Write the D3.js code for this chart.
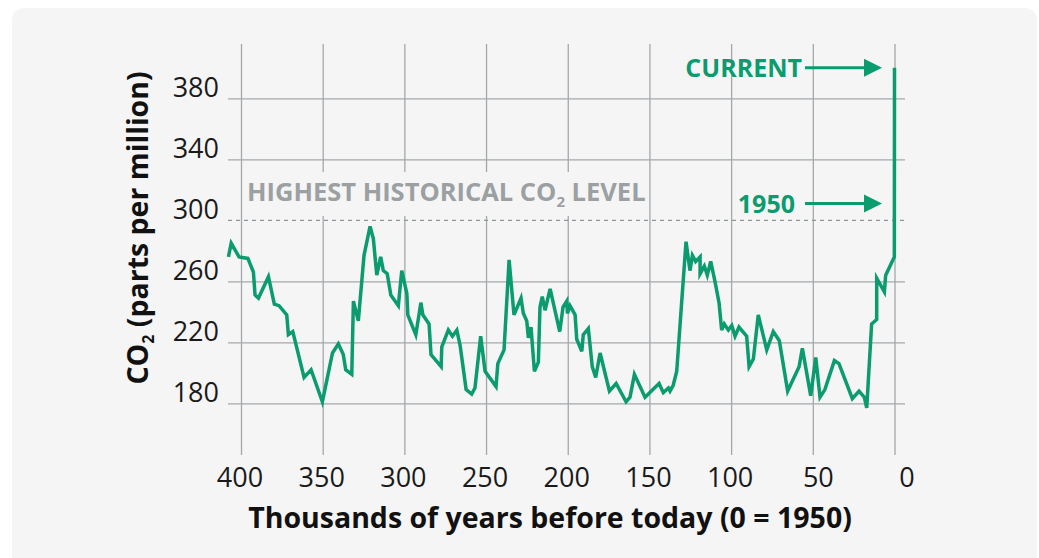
<!DOCTYPE html>
<html>
<head>
<meta charset="utf-8">
<script src="https://cdn.jsdelivr.net/npm/d3@7"></script>
<style>
  body { margin: 0; background: #ffffff; }
  svg { display: block; font-family: "Open Sans", "Noto Sans", sans-serif; }
  .grid line { stroke: #a3a8ab; stroke-width: 1.3; }
  .grid path { display: none; }
  .ticklab text { fill: #1a1a1a; font-size: 27px; font-family: "Open Sans", "Noto Sans", sans-serif; }
  .ticklab path, .ticklab line { display: none; }
</style>
</head>
<body>
<svg id="chart" width="1039" height="558"></svg>
<script>
// thousands of years before 1950
var kyr = [407.7, 406, 401.2, 395.8, 392.4, 391.4, 389.3, 383.2, 379.6, 376.7, 372, 371, 368.3,
  361.4, 357.1, 350.2, 344, 340.4, 337.4, 335.9, 332.2, 331.2, 328.2, 324.7, 321, 319, 316.9,
  314.5, 312.9, 310.5, 308.3, 303.7, 301.6, 298.5, 297.9, 293, 289.9, 288.7, 284.9, 283.7,
  277.5, 277.1, 273.1, 270.6, 267.9, 265.9, 262.2, 258.8, 256.8, 253.3, 250.6, 243.9, 242.8,
  239, 235.9, 232.9, 228.6, 227.2, 225.1, 224.1, 222.5, 220.4, 218, 217, 215.6, 213.9, 210.8,
  204.9, 202.9, 200.6, 200.2, 198.6, 195.5, 194.5, 191.4, 190.5, 187.4, 185, 182.9, 180.2,
  174.5, 170.4, 164.3, 161.9, 159.2, 152.7, 144.1, 141.5, 138.4, 137.4, 135.4, 133.3, 130.7,
  127.6, 125.2, 123.7, 121.7, 119, 119, 116.4, 114.6, 112.5, 109.9, 107.4, 105.8, 104.2,
  101.7, 99.6, 97.6, 95.2, 90.5, 89, 86.4, 83.4, 78.2, 74.2, 70.5, 65.4, 58.4, 56.4, 51.3,
  48.2, 45.6, 42.6, 36.8, 34, 25.8, 21.7, 18.5, 17, 14, 10.9, 10.9, 6.2, 5.4, 0.1, 0];
var ppm = [276, 285, 276, 275, 266, 251, 249, 263, 245, 244, 238, 225, 227,
  197, 202, 181, 213, 219, 212, 202, 199, 247, 234, 277, 296, 288, 264,
  276, 267, 265, 251, 244, 267, 252, 238, 225, 246, 238, 232, 212,
  204, 217, 228, 224, 228, 218, 189, 186, 190, 224, 201, 191, 206,
  215, 274, 238, 249, 239, 234, 223, 230, 201, 207, 243, 250, 241, 255,
  227, 243, 247, 239, 244, 238, 222, 214, 225, 229, 204, 197, 213,
  188, 193, 181, 184, 199, 184, 193, 187, 190, 188, 192, 201, 240,
  286, 267, 277, 273, 276, 265, 270, 264, 273, 260, 246, 228, 232,
  228, 231, 224, 230, 224, 204, 209, 238, 215, 227, 221, 188, 204, 216, 185,
  210, 184, 189, 208, 206, 183, 188, 184, 177, 232, 235, 262, 253, 264, 276, 400];

var yTicks = [180, 220, 260, 340, 380];
var xTicks = [400, 350, 300, 250, 200, 150, 100, 50, 0];
var highest = 300;

var green = "#0a9b6e";
var svg = d3.select("#chart");

svg.append("rect")
  .attr("x", 12).attr("y", 8)
  .attr("width", 1025).attr("height", 560)
  .attr("rx", 12)
  .attr("fill", "#f5f5f5");

var x = d3.scaleLinear().domain([400, 0]).range([241, 894.5]);
var y = d3.scaleLinear().domain([180, 380]).range([403.3, 98.3]);

// vertical grid
svg.append("g")
  .attr("class", "grid")
  .attr("transform", "translate(0,455)")
  .call(d3.axisBottom(x).tickValues(xTicks).tickSize(-411).tickFormat(""));

// horizontal grid
svg.append("g")
  .attr("class", "grid")
  .attr("transform", "translate(905,0)")
  .call(d3.axisLeft(y).tickValues(yTicks).tickSize(677).tickFormat(""));

// dashed line at the historical high
svg.append("line")
  .attr("x1", 228).attr("x2", 905)
  .attr("y1", y(highest)).attr("y2", y(highest))
  .attr("stroke", "#8f9598")
  .attr("stroke-width", 1.2)
  .attr("stroke-dasharray", "4,4");

// label with a background that cuts the gridlines
var hl = svg.append("g");
hl.append("rect")
  .attr("x", 246).attr("y", 172)
  .attr("width", 400).attr("height", 44)
  .attr("fill", "#f5f5f5");
var hlt = hl.append("text")
  .attr("x", 247).attr("y", 200.5)
  .attr("fill", "#9ba0a3")
  .attr("font-size", 25.5)
  .attr("font-weight", 700);
hlt.append("tspan").text("HIGHEST HISTORICAL CO");
hlt.append("tspan").text("2").attr("font-size", 15).attr("dy", 6);
hlt.append("tspan").text(" LEVEL").attr("dy", -6);

// tick labels
svg.append("g")
  .attr("class", "ticklab")
  .attr("transform", "translate(219,0)")
  .call(d3.axisLeft(y).tickValues(yTicks.concat([highest])).tickSize(0).tickPadding(0))
  .selectAll("text")
  .attr("dy", "-0.05em");

svg.append("g")
  .attr("class", "ticklab")
  .attr("transform", "translate(0,466)")
  .call(d3.axisBottom(x).tickValues(xTicks).tickSize(0).tickPadding(0))
  .selectAll("text")
  .attr("dy", "0.78em")
  .attr("dx", function(d) { return d == 0 ? 12 : (d == 50 ? 5 : -1.5); });

// the data line
var pts = kyr.map(function(k, i) { return [k, ppm[i]]; });
svg.append("path")
  .datum(pts)
  .attr("fill", "none")
  .attr("stroke", green)
  .attr("stroke-width", 3.5)
  .attr("stroke-linejoin", "miter")
  .attr("d", d3.line().x(function(d) { return x(d[0]); }).y(function(d) { return y(d[1]); }));

// annotations
var notes = [
  {label: "CURRENT", val: 400, tx: 802},
  {label: "1950", val: 311, tx: 795}
];
notes.forEach(function(n) {
  var yy = y(n.val);
  svg.append("text")
    .attr("x", n.tx).attr("y", yy)
    .attr("dy", "0.36em")
    .attr("text-anchor", "end")
    .attr("fill", green)
    .attr("font-size", 25)
    .attr("font-weight", 700)
    .text(n.label);
  svg.append("line")
    .attr("x1", 805).attr("x2", 866)
    .attr("y1", yy).attr("y2", yy)
    .attr("stroke", green).attr("stroke-width", 3);
  svg.append("path")
    .attr("d", "M864," + (yy - 9) + "L882," + yy + "L864," + (yy + 9) + "Z")
    .attr("fill", green);
});

// axis titles
var yt = svg.append("text")
  .attr("transform", "translate(148,228) rotate(-90)")
  .attr("text-anchor", "middle")
  .attr("fill", "#111")
  .attr("font-size", 28.5)
  .attr("font-weight", 700);
yt.append("tspan").text("CO");
yt.append("tspan").text("2").attr("font-size", 16).attr("dy", 6);
yt.append("tspan").text(" (parts per million)").attr("dy", -6);

svg.append("text")
  .attr("x", 550).attr("y", 528)
  .attr("text-anchor", "middle")
  .attr("fill", "#111")
  .attr("font-size", 28.5)
  .attr("font-weight", 700)
  .text("Thousands of years before today (0 = 1950)");
</script>
</body>
</html>
